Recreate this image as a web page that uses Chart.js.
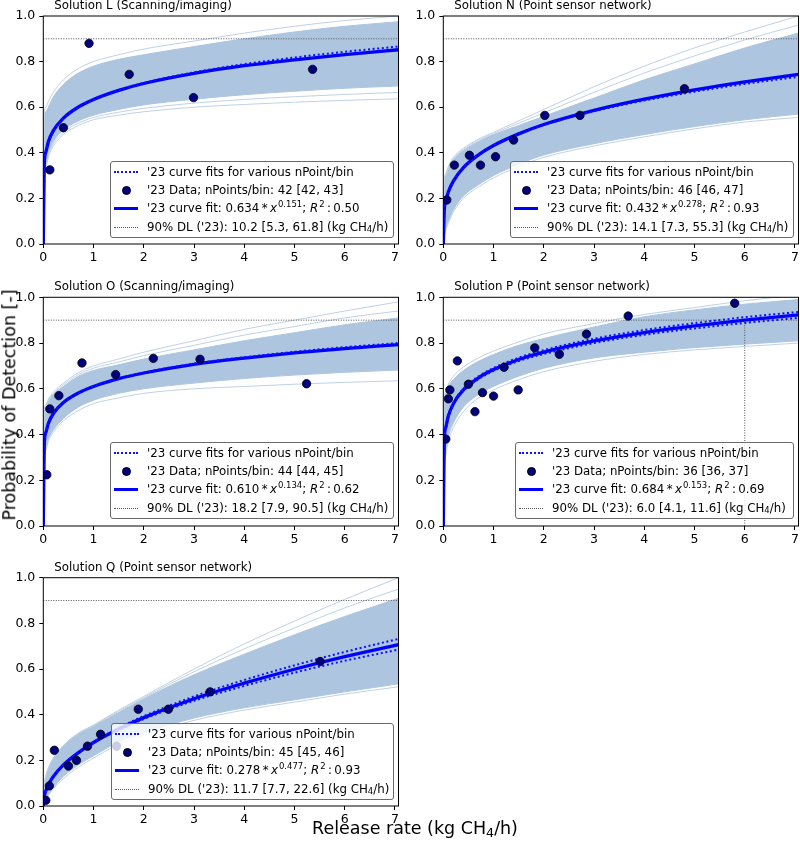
<!DOCTYPE html>
<html>
<head>
<meta charset="utf-8">
<script src="https://cdn.jsdelivr.net/npm/chart.js@4.4.1/dist/chart.umd.min.js"></script>
<style>
  html, body { margin: 0; padding: 0; background: #fff; }
  body { width: 800px; height: 842px; position: relative; overflow: hidden; font-family: 'DejaVu Sans', sans-serif; color: #000; }
  canvas { position: absolute; }
  .title { position: absolute; font-size: 11.8px; line-height: 1; white-space: nowrap; }
  .axis-label { position: absolute; font-size: 17.5px; line-height: 1; white-space: nowrap; transform: translate(-50%, -50%); }
  .axis-label.y { transform: translate(-50%, -50%) rotate(-90deg); }
  .legend { position: absolute; box-sizing: border-box; height: 77.5px; padding-top: 1px; background: rgba(255, 255, 255, 0.8); border: 1px solid #6a6a6a; border-radius: 3px; font-size: 11.8px; overflow: hidden; }
  .row { height: 18.3px; line-height: 18.3px; white-space: nowrap; display: flex; align-items: center; }
  .hnd { flex: none; width: 36px; height: 18.3px; position: relative; }
  .hnd span { position: absolute; }
  .h-dotline { left: 3px; width: 24px; top: 8px; border-top: 2px dotted #1010ff; }
  .h-marker { left: 11px; top: 5px; width: 7px; height: 7px; border-radius: 50%; background: #000080; border: 0.8px solid #000; }
  .h-solid { left: 3px; width: 24px; top: 7.5px; height: 3.3px; background: #0000ff; }
  .h-dl { left: 3px; width: 24px; top: 9px; border-top: 1px dotted #555; }
  sup { font-size: 72%; position: relative; top: -0.5em; vertical-align: baseline; line-height: 0; margin-left: 1px; }
  sub { font-size: 72%; position: relative; top: 0.22em; vertical-align: baseline; line-height: 0; }
</style>
</head>
<body>
<script>
const xGrid = [0, 0.02, 0.05, 0.1, 0.2, 0.4, 0.7, 1, 1.5, 2, 3, 4, 5, 6, 7.07];
const xMax = 7.07;
const dlLevel = 0.9;

const titles = ['Solution L (Scanning/imaging)', 'Solution N (Point sensor network)', 'Solution O (Scanning/imaging)', 'Solution P (Point sensor network)', 'Solution Q (Point sensor network)'];
const nPoints = ['42 [42, 43]', '46 [46, 47]', '44 [44, 45]', '36 [36, 37]', '45 [45, 46]'];
const fitCoef = ['0.634', '0.432', '0.610', '0.684', '0.278'];
const fitExp = ['0.151', '0.278', '0.134', '0.153', '0.477'];
const rSquared = ['0.50', '0.93', '0.62', '0.69', '0.93'];
const dlValues = [10.2, 14.1, 18.2, 6.0, 11.7];
const dlRanges = ['[5.3, 61.8]', '[7.3, 55.3]', '[7.9, 90.5]', '[4.1, 11.6]', '[7.7, 22.6]'];

// Solution L
const fitL = [0, 0.351, 0.403, 0.448, 0.497, 0.552, 0.601, 0.634, 0.674, 0.704, 0.748, 0.782, 0.808, 0.831, 0.852];
const dotL = [0, 0.345, 0.398, 0.444, 0.494, 0.550, 0.600, 0.634, 0.675, 0.707, 0.753, 0.789, 0.818, 0.843, 0.866];
const upL = [0, 0.55, 0.58, 0.60, 0.645, 0.70, 0.75, 0.78, 0.81, 0.83, 0.866, 0.90, 0.93, 0.955, 0.975];
const lowL = [0, 0.30, 0.35, 0.40, 0.45, 0.50, 0.54, 0.565, 0.59, 0.61, 0.635, 0.655, 0.67, 0.683, 0.693];
const hiL = [0, 0.57, 0.60, 0.625, 0.665, 0.72, 0.77, 0.80, 0.83, 0.855, 0.89, 0.925, 0.955, 0.98, 1.0];
const loL = [0, 0.28, 0.33, 0.38, 0.43, 0.48, 0.52, 0.545, 0.565, 0.58, 0.60, 0.612, 0.622, 0.63, 0.637];
const loL2 = [0, 0.29, 0.34, 0.39, 0.44, 0.49, 0.53, 0.555, 0.578, 0.595, 0.618, 0.634, 0.646, 0.656, 0.665];
const ptsLx = [0.13, 0.40, 0.91, 1.71, 2.99, 5.36];
const ptsLy = [0.325, 0.51, 0.88, 0.744, 0.642, 0.766];

// Solution N
const fitN = [0, 0.146, 0.188, 0.228, 0.276, 0.335, 0.391, 0.432, 0.483, 0.524, 0.586, 0.635, 0.676, 0.711, 0.744];
const dotN = [0, 0.146, 0.188, 0.228, 0.276, 0.335, 0.391, 0.432, 0.482, 0.522, 0.582, 0.629, 0.668, 0.702, 0.733];
const upN = [0, 0.27, 0.30, 0.33, 0.37, 0.41, 0.45, 0.48, 0.52, 0.56, 0.64, 0.72, 0.79, 0.86, 0.925];
const lowN = [0, 0.04, 0.07, 0.10, 0.15, 0.21, 0.26, 0.30, 0.35, 0.39, 0.44, 0.48, 0.515, 0.545, 0.57];
const hiN = [0, 0.28, 0.31, 0.34, 0.38, 0.42, 0.46, 0.49, 0.54, 0.59, 0.69, 0.78, 0.86, 0.93, 1.0];
const hiN2 = [0, 0.275, 0.305, 0.335, 0.375, 0.415, 0.455, 0.485, 0.53, 0.575, 0.665, 0.75, 0.825, 0.895, 0.96];
const loN = [0, 0.03, 0.06, 0.09, 0.14, 0.20, 0.25, 0.29, 0.34, 0.38, 0.43, 0.47, 0.505, 0.535, 0.555];
const ptsNx = [0.07, 0.22, 0.52, 0.74, 1.04, 1.40, 2.02, 2.72, 4.80];
const ptsNy = [0.193, 0.346, 0.389, 0.346, 0.383, 0.456, 0.564, 0.564, 0.681];

// Solution O
const fitO = [0, 0.361, 0.408, 0.448, 0.492, 0.540, 0.582, 0.610, 0.644, 0.669, 0.707, 0.734, 0.757, 0.776, 0.793];
const dotO = [0, 0.360, 0.407, 0.447, 0.491, 0.539, 0.582, 0.611, 0.645, 0.671, 0.710, 0.738, 0.762, 0.782, 0.800];
const upO = [0, 0.50, 0.52, 0.545, 0.575, 0.61, 0.655, 0.68, 0.705, 0.73, 0.77, 0.81, 0.845, 0.88, 0.91];
const lowO = [0, 0.30, 0.34, 0.38, 0.42, 0.47, 0.52, 0.55, 0.58, 0.60, 0.625, 0.645, 0.66, 0.672, 0.682];
const hiO = [0, 0.51, 0.53, 0.555, 0.585, 0.625, 0.67, 0.70, 0.73, 0.76, 0.81, 0.86, 0.90, 0.94, 0.98];
const hiO2 = [0, 0.505, 0.525, 0.55, 0.58, 0.617, 0.662, 0.69, 0.717, 0.745, 0.79, 0.835, 0.872, 0.91, 0.94];
const loO = [0, 0.29, 0.33, 0.37, 0.41, 0.46, 0.505, 0.535, 0.56, 0.58, 0.60, 0.61, 0.62, 0.628, 0.635];
const ptsOx = [0.07, 0.13, 0.31, 0.77, 1.44, 2.19, 3.12, 5.24];
const ptsOy = [0.224, 0.512, 0.57, 0.713, 0.662, 0.733, 0.729, 0.622];

// Solution P
const fitP = [0, 0.376, 0.432, 0.481, 0.535, 0.595, 0.648, 0.684, 0.728, 0.760, 0.809, 0.846, 0.875, 0.900, 0.923];
const dotP1 = [0, 0.378, 0.434, 0.484, 0.539, 0.600, 0.654, 0.691, 0.736, 0.769, 0.819, 0.857, 0.887, 0.913, 0.936];
const dotP2 = [0, 0.374, 0.430, 0.478, 0.531, 0.590, 0.642, 0.678, 0.721, 0.752, 0.800, 0.836, 0.864, 0.888, 0.910];
const upP = [0, 0.55, 0.58, 0.61, 0.64, 0.68, 0.72, 0.75, 0.79, 0.82, 0.87, 0.915, 0.945, 0.97, 0.99];
const lowP = [0, 0.27, 0.33, 0.39, 0.45, 0.52, 0.575, 0.61, 0.655, 0.69, 0.735, 0.76, 0.78, 0.795, 0.81];
const hiP = [0, 0.56, 0.59, 0.62, 0.655, 0.695, 0.735, 0.765, 0.805, 0.84, 0.885, 0.925, 0.955, 0.985, 1.01];
const loP = [0, 0.25, 0.31, 0.37, 0.43, 0.50, 0.56, 0.595, 0.64, 0.675, 0.72, 0.75, 0.77, 0.785, 0.80];
const ptsPx = [0.05, 0.10, 0.13, 0.28, 0.50, 0.63, 0.78, 1.00, 1.21, 1.49, 1.82, 2.31, 2.85, 3.68, 5.80];
const ptsPy = [0.38, 0.556, 0.595, 0.722, 0.62, 0.50, 0.583, 0.568, 0.694, 0.595, 0.779, 0.751, 0.839, 0.918, 0.974];

// Solution Q
const fitQ = [0, 0.043, 0.067, 0.093, 0.129, 0.180, 0.234, 0.278, 0.337, 0.387, 0.470, 0.538, 0.599, 0.654, 0.707];
const dotQ1 = [0, 0.043, 0.067, 0.093, 0.129, 0.181, 0.236, 0.281, 0.342, 0.394, 0.480, 0.552, 0.616, 0.675, 0.732];
const dotQ2 = [0, 0.044, 0.068, 0.094, 0.130, 0.180, 0.233, 0.276, 0.333, 0.381, 0.461, 0.526, 0.584, 0.636, 0.685];
const upQ = [0, 0.09, 0.13, 0.165, 0.21, 0.265, 0.315, 0.35, 0.41, 0.47, 0.575, 0.665, 0.75, 0.83, 0.91];
const lowQ = [0, 0.015, 0.03, 0.05, 0.08, 0.13, 0.18, 0.22, 0.28, 0.32, 0.385, 0.43, 0.465, 0.50, 0.535];
const hiQ = [0, 0.09, 0.13, 0.165, 0.21, 0.265, 0.32, 0.355, 0.42, 0.48, 0.60, 0.71, 0.81, 0.905, 1.0];
const hiQ2 = [0, 0.09, 0.13, 0.165, 0.21, 0.265, 0.318, 0.352, 0.415, 0.475, 0.588, 0.688, 0.78, 0.868, 0.95];
const loQ = [0, 0.012, 0.025, 0.045, 0.075, 0.12, 0.17, 0.21, 0.27, 0.31, 0.375, 0.42, 0.455, 0.49, 0.522];
const ptsQx = [0.05, 0.12, 0.22, 0.50, 0.66, 0.88, 1.14, 1.46, 1.89, 2.49, 3.32, 5.51];
const ptsQy = [0.025, 0.088, 0.244, 0.175, 0.20, 0.262, 0.314, 0.262, 0.424, 0.424, 0.50, 0.633];

const panels = [
    { fit: fitL, dots: [dotL], up: upL, low: lowL, strays: [hiL, loL, loL2], px: ptsLx, py: ptsLy },
    { fit: fitN, dots: [dotN], up: upN, low: lowN, strays: [hiN, hiN2, loN], px: ptsNx, py: ptsNy },
    { fit: fitO, dots: [dotO], up: upO, low: lowO, strays: [hiO, hiO2, loO], px: ptsOx, py: ptsOy },
    { fit: fitP, dots: [dotP1, dotP2], up: upP, low: lowP, strays: [hiP, loP], px: ptsPx, py: ptsPy },
    { fit: fitQ, dots: [dotQ1, dotQ2], up: upQ, low: lowQ, strays: [hiQ, hiQ2, loQ], px: ptsQx, py: ptsQy }
];

// where each plot frame sits on the page
const frames = [
    { left: 43.3, top: 16 }, { left: 443.3, top: 16 },
    { left: 43.3, top: 297.3 }, { left: 443.3, top: 297.3 },
    { left: 43.3, top: 577.7 }
];
const legendBoxes = [
    { left: 110, top: 160.7, width: 284 }, { left: 510, top: 160.7, width: 284 },
    { left: 110, top: 441.7, width: 284 }, { left: 515, top: 441.7, width: 279 },
    { left: 111, top: 722.7, width: 283 }
];
const frameW = 355.2, frameH = 228, yAxisW = 43.3, padRight = 15.5, xAxisH = 30;
const bandColor = '#adc5df';
const strayColor = '#bfd1e7';

const framePlugin = {
    id: 'frame',
    afterDraw(chart) {
        const a = chart.chartArea;
        const ctx = chart.ctx;
        ctx.save();
        ctx.strokeStyle = '#000';
        ctx.lineWidth = 1;
        ctx.strokeRect(a.left, a.top, a.right - a.left, a.bottom - a.top);
        ctx.restore();
    }
};

function toXY(ys) {
    return xGrid.map((x, i) => ({ x: x, y: ys[i] }));
}

function curve(ys, extra) {
    return Object.assign({
        data: toXY(ys),
        showLine: true,
        pointRadius: 0,
        borderWidth: 1,
        cubicInterpolationMode: 'monotone',
        fill: false
    }, extra);
}

function legendHtml(i) {
    return '<div class="row"><span class="hnd"><span class="h-dotline"></span></span>\'23 curve fits for various nPoint/bin</div>' +
        '<div class="row"><span class="hnd"><span class="h-marker"></span></span>\'23 Data; nPoints/bin: ' + nPoints[i] + '</div>' +
        '<div class="row"><span class="hnd"><span class="h-solid"></span></span>\'23 curve fit: ' + fitCoef[i] + '&#8201;*&#8201;<i>x</i><sup>' + fitExp[i] + '</sup>;&nbsp;<i>R</i><sup>2</sup>&#8201;:&#8201;' + rSquared[i] + '</div>' +
        '<div class="row"><span class="hnd"><span class="h-dl"></span></span>90% DL (\'23): ' + dlValues[i].toFixed(1) + ' ' + dlRanges[i] + ' (kg CH<sub>4</sub>/h)</div>';
}

function addText(cls, html, style) {
    const d = document.createElement('div');
    d.className = cls;
    d.innerHTML = html;
    Object.assign(d.style, style);
    document.body.appendChild(d);
    return d;
}

const tickFont = { family: "'DejaVu Sans', sans-serif", size: 12.5 };

panels.forEach(function (p, i) {
    const f = frames[i];
    const cLeft = Math.floor(f.left - yAxisW);
    const cTop = Math.floor(f.top - 16);
    const padTop = f.top - cTop;
    const padLeft = f.left - yAxisW - cLeft;
    const cW = Math.ceil(padLeft + yAxisW + frameW + padRight);
    const cH = Math.ceil(padTop + frameH + xAxisH);

    const canvas = document.createElement('canvas');
    canvas.width = cW;
    canvas.height = cH;
    canvas.style.left = cLeft + 'px';
    canvas.style.top = cTop + 'px';
    canvas.style.width = cW + 'px';
    canvas.style.height = cH + 'px';
    document.body.appendChild(canvas);

    const datasets = [];
    datasets.push({
        data: p.px.map((x, k) => ({ x: x, y: p.py[k] })),
        pointRadius: 4.2,
        pointBackgroundColor: '#000080',
        pointBorderColor: '#000',
        pointBorderWidth: 0.8,
        order: 0
    });
    p.dots.forEach(function (d) {
        datasets.push(curve(d, { borderColor: '#1010ff', borderWidth: 2, borderDash: [2, 2.6], order: 1 }));
    });
    datasets.push(curve(p.fit, { borderColor: '#0000ff', borderWidth: 3.3, order: 2 }));
    datasets.push({
        data: [{ x: 0, y: dlLevel }, { x: xMax, y: dlLevel }],
        showLine: true, pointRadius: 0, borderColor: '#555', borderWidth: 1, borderDash: [1, 1.5], order: 3
    });
    if (dlValues[i] < xMax) {
        datasets.push({
            data: [{ x: dlValues[i], y: 0 }, { x: dlValues[i], y: dlLevel }],
            showLine: true, pointRadius: 0, borderColor: '#555', borderWidth: 1, borderDash: [1, 1.5], order: 3
        });
    }
    p.strays.forEach(function (s) {
        datasets.push(curve(s, { borderColor: strayColor, borderWidth: 1, order: 4 }));
    });
    datasets.push(curve(p.up, { borderColor: bandColor, backgroundColor: bandColor, fill: '+1', order: 5 }));
    datasets.push(curve(p.low, { borderColor: bandColor, order: 5 }));

    new Chart(canvas.getContext('2d'), {
        type: 'scatter',
        data: { datasets: datasets },
        options: {
            responsive: false,
            animation: false,
            devicePixelRatio: 1,
            layout: { padding: { top: padTop, right: padRight, bottom: 0, left: padLeft } },
            plugins: { legend: { display: false }, tooltip: { enabled: false }, title: { display: false } },
            scales: {
                x: {
                    type: 'linear', min: 0, max: xMax,
                    afterFit: function (s) { s.height = xAxisH; },
                    border: { display: false },
                    grid: { drawOnChartArea: false, drawTicks: true, tickLength: 4, color: '#000', lineWidth: 1 },
                    ticks: { stepSize: 1, includeBounds: false, color: '#000', font: tickFont, padding: 2, maxRotation: 0, autoSkip: false }
                },
                y: {
                    type: 'linear', min: 0, max: 1,
                    afterFit: function (s) { s.width = yAxisW; },
                    border: { display: false },
                    grid: { drawOnChartArea: false, drawTicks: true, tickLength: 4, color: '#000', lineWidth: 1 },
                    ticks: { stepSize: 0.2, includeBounds: false, color: '#000', font: tickFont, padding: 4, callback: v => v.toFixed(1) }
                }
            }
        },
        plugins: [framePlugin]
    });

    addText('title', titles[i], { left: (f.left + 11) + 'px', top: (f.top - 7 - 9) + 'px' });
    const lb = legendBoxes[i];
    addText('legend', legendHtml(i), { left: lb.left + 'px', top: lb.top + 'px', width: lb.width + 'px' });
});

addText('axis-label y', 'Probability of Detection [-]', { left: '10px', top: '405px' });
addText('axis-label', 'Release rate (kg CH<sub>4</sub>/h)', { left: '415px', top: '829px' });
</script>
</body>
</html>
